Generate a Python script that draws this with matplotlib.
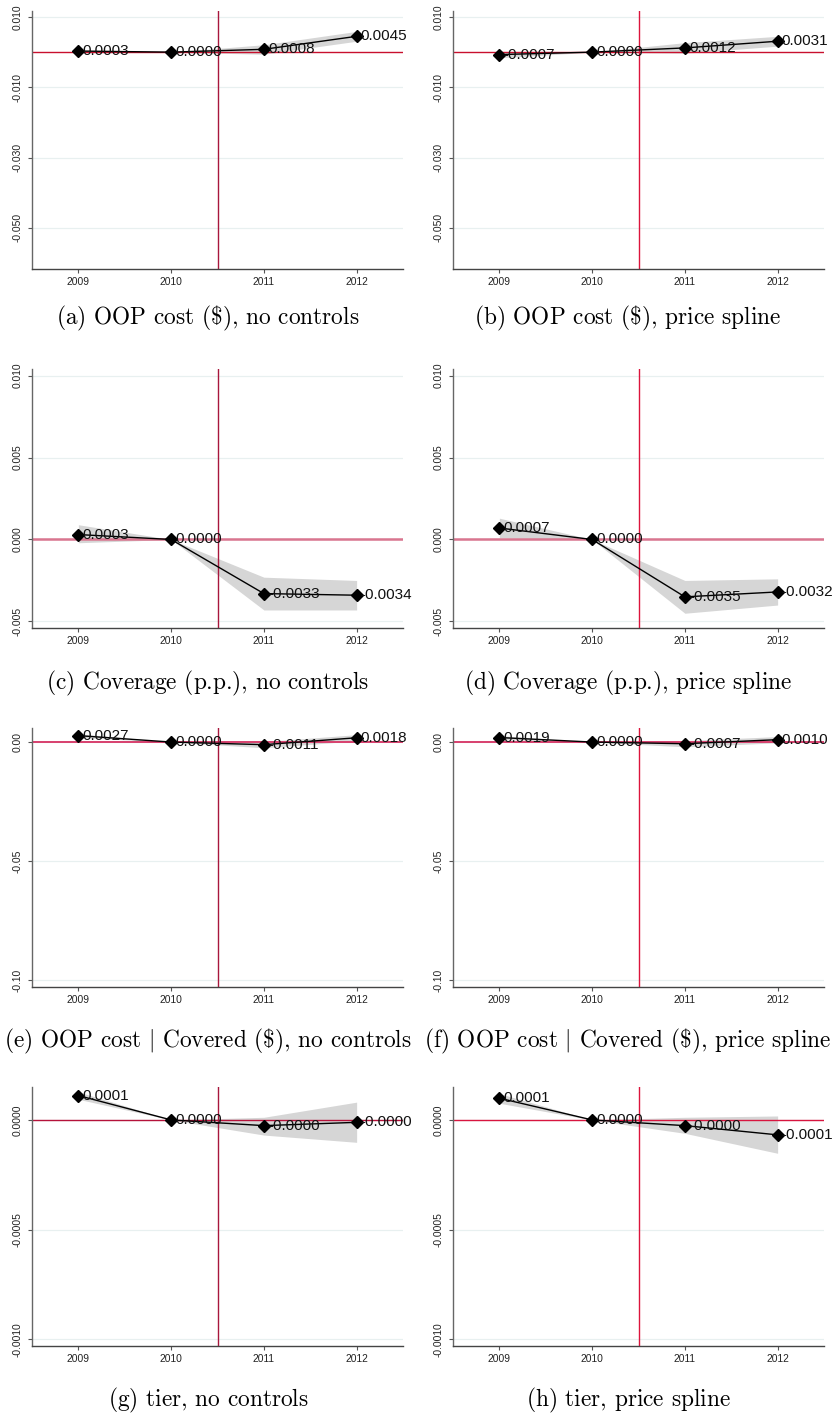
import matplotlib
matplotlib.use("Agg")
import matplotlib.pyplot as plt

plt.rcParams["font.family"] = ["Liberation Sans", "DejaVu Sans"]
plt.rcParams["mathtext.fontset"] = "cm"

W, H = 838, 1416

years = [2009, 2010, 2011, 2012]

# (a) OOP cost, no controls
oop_nc = [0.0003, 0.0000, 0.0008, 0.0045]
oop_nc_lo = [-0.0001, 0.0000, -0.0006, 0.0031]
oop_nc_hi = [0.0007, 0.0000, 0.0021, 0.0059]
# (b) OOP cost, price spline
oop_ps = [-0.0007, 0.0000, 0.0012, 0.0031]
oop_ps_lo = [-0.0016, 0.0000, -0.0003, 0.0017]
oop_ps_hi = [0.0002, 0.0000, 0.0027, 0.0045]
# (c) Coverage, no controls
cov_nc = [0.0003, 0.0000, -0.0033, -0.0034]
cov_nc_lo = [-0.0002, 0.0000, -0.0043, -0.0043]
cov_nc_hi = [0.0009, 0.0000, -0.0023, -0.0025]
# (d) Coverage, price spline
cov_ps = [0.0007, 0.0000, -0.0035, -0.0032]
cov_ps_lo = [0.0001, 0.0000, -0.0045, -0.0040]
cov_ps_hi = [0.0013, 0.0000, -0.0025, -0.0024]
# (e) OOP cost | covered, no controls
oopc_nc = [0.0027, 0.0000, -0.0011, 0.0018]
oopc_nc_lo = [0.0019, 0.0000, -0.0024, 0.0005]
oopc_nc_hi = [0.0035, 0.0000, 0.0002, 0.0031]
# (f) OOP cost | covered, price spline
oopc_ps = [0.0019, 0.0000, -0.0007, 0.0010]
oopc_ps_lo = [0.0011, 0.0000, -0.0020, -0.0003]
oopc_ps_hi = [0.0027, 0.0000, 0.0006, 0.0023]
# (g) tier, no controls
tier_nc = [0.000111, 0.0000, -0.000026, -0.000011]
tier_nc_lo = [0.000094, 0.0000, -0.000069, -0.000102]
tier_nc_hi = [0.000128, 0.0000, 0.000012, 0.000081]
# (h) tier, price spline
tier_ps = [0.000099, 0.0000, -0.000026, -0.000068]
tier_ps_lo = [0.000076, 0.0000, -0.000061, -0.000152]
tier_ps_hi = [0.000120, 0.0000, 0.000012, 0.000018]

captions = [
    "(a) OOP cost ($), no controls",
    "(b) OOP cost ($), price spline",
    "(c) Coverage (p.p.), no controls",
    "(d) Coverage (p.p.), price spline",
    "(e) OOP cost | Covered ($), no controls",
    "(f) OOP cost | Covered ($), price spline",
    "(g) tier, no controls",
    "(h) tier, price spline",
]

ticks_oop = [0.010, -0.010, -0.030, -0.050]
ticklabels_oop = ["0.010", "-0.010", "-0.030", "-0.050"]
ticks_cov = [0.010, 0.005, 0.000, -0.005]
ticklabels_cov = ["0.010", "0.005", "0.000", "-0.005"]
ticks_oopc = [0.00, -0.05, -0.10]
ticklabels_oopc = ["0.00", "-0.05", "-0.10"]
ticks_tier = [0.0, -0.0005, -0.0010]
ticklabels_tier = ["0.0000", "-0.0005", "-0.0010"]

panels = [
    (oop_nc, oop_nc_lo, oop_nc_hi, ticks_oop, ticklabels_oop, (-0.0617, 0.0117)),
    (oop_ps, oop_ps_lo, oop_ps_hi, ticks_oop, ticklabels_oop, (-0.0617, 0.0117)),
    (cov_nc, cov_nc_lo, cov_nc_hi, ticks_cov, ticklabels_cov, (-0.0054, 0.0104)),
    (cov_ps, cov_ps_lo, cov_ps_hi, ticks_cov, ticklabels_cov, (-0.0054, 0.0104)),
    (oopc_nc, oopc_nc_lo, oopc_nc_hi, ticks_oopc, ticklabels_oopc, (-0.1028, 0.0059)),
    (oopc_ps, oopc_ps_lo, oopc_ps_hi, ticks_oopc, ticklabels_oopc, (-0.1028, 0.0059)),
    (tier_nc, tier_nc_lo, tier_nc_hi, ticks_tier, ticklabels_tier, (-0.00103, 0.00015)),
    (tier_ps, tier_ps_lo, tier_ps_hi, ticks_tier, ticklabels_tier, (-0.00103, 0.00015)),
]

# layout in pixels
col_x = [(32, 403), (453, 824)]
row_y = [(11, 269), (369, 628), (728, 987), (1087, 1346)]
cap_y = [318, 683, 1041, 1400]
cap_x = [208, 628]
hline_colors = ["#c8102e", "#c8102e", "#d9758f", "#d9758f",
                "#d8406e", "#d8406e", "#b5123a", "#d8153f"]
hline_widths = [1.0, 1.0, 1.8, 1.8, 1.4, 1.4, 1.0, 1.0]
vline_colors = ["#a8163c", "#dc143c"]


def to_math(s):
    # \text keeps spacing and punctuation as typed; $ and | go through mathrm
    s = s.replace("$", r"}\mathrm{\$}\text{").replace("|", r"}\mathrm{|}\text{")
    return r"$\text{" + s + "}$"


fig = plt.figure(figsize=(W / 100, H / 100), dpi=100)

for i, (vals, lo, hi, ticks, tlabels, ylim) in enumerate(panels):
    r, c = divmod(i, 2)
    x0, x1 = col_x[c]
    y0, y1 = row_y[r]
    ax = fig.add_axes([x0 / W, 1 - y1 / H, (x1 - x0) / W, (y1 - y0) / H])

    ax.set_xlim(2008.5, 2012.5)
    ax.set_ylim(*ylim)
    ax.set_yticks(ticks)
    ax.set_yticklabels(tlabels, rotation=90, va="center")
    ax.set_xticks(years)
    ax.set_xticklabels([str(y) for y in years])
    ax.tick_params(axis="both", labelsize=7.4, length=3, width=0.8,
                   color="#555555", labelcolor="#222222")
    ax.tick_params(axis="y", pad=4)
    ax.tick_params(axis="x", pad=3)
    ax.grid(axis="y", color="#e8f0f0", lw=0.9)
    ax.set_axisbelow(True)
    for s in ["top", "right"]:
        ax.spines[s].set_visible(False)
    ax.spines["left"].set_color("#666666")
    ax.spines["left"].set_linewidth(1.0)
    ax.spines["bottom"].set_color("#444444")
    ax.spines["bottom"].set_linewidth(1.0)

    ax.fill_between(years, lo, hi, color="#d6d6d6", lw=0, zorder=1)
    ax.axhline(0, color=hline_colors[i], lw=hline_widths[i], zorder=2)
    ax.axvline(2010.5, color=vline_colors[c], lw=1.0, zorder=2)
    ax.plot(years, vals, color="black", lw=1.0, marker="D", ms=6.5,
            mec="black", mfc="black", zorder=3)
    for x, v in zip(years, vals):
        ax.annotate(f"{v:.4f}", (x, v), xytext=(3.0, 0), textcoords="offset points",
                    ha="left", va="center", fontsize=11, color="#111111",
                    zorder=4, annotation_clip=False)

    fig.text(cap_x[c] / W, 1 - cap_y[r] / H, to_math(captions[i]),
             ha="center", va="center", fontsize=16.8)

fig.savefig("out.png", dpi=100)
